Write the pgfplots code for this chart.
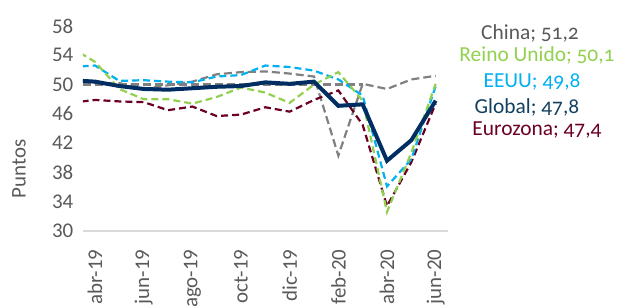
\documentclass[border=0pt]{standalone}
\usepackage{fontspec}
\setmainfont{Carlito}
\usepackage{pgfplots}
\pgfplotsset{compat=1.18}
\definecolor{cgray}{HTML}{808080}
\definecolor{tgray}{HTML}{595959}
\definecolor{cgreen}{HTML}{92D050}
\definecolor{cblue}{HTML}{00B0F0}
\definecolor{cnavy}{HTML}{002D62}
\definecolor{tnavy}{HTML}{12405E}
\definecolor{cmaroon}{HTML}{6B0022}
\definecolor{axgray}{HTML}{D9D9D9}
\begin{document}
\begin{tikzpicture}
\begin{axis}[
  at={(0,0)}, anchor=origin,
  scale only axis, width=365bp, height=205bp,
  xmin=-0.5, xmax=14.5, ymin=30, ymax=58,
  clip=true,
  separate axis lines,
  axis x line*=bottom, axis y line*=left,
  x axis line style={draw=axgray, line width=1.5bp, -},
  y axis line style={draw=none},
  ytick={30,34,...,58},
  xtick={0,2,...,14},
  xticklabels={abr-19,jun-19,ago-19,oct-19,dic-19,feb-20,abr-20,jun-20},
  major tick length=0pt,
  /pgf/number format/assume math mode=true,
  tick label style={font=\fontsize{21}{25}\selectfont, text=tgray},
  x tick label style={rotate=90, anchor=east},
  xticklabel shift=15bp,
  yticklabel style={anchor=east, xshift=-6bp},
]
\addplot[draw=cgray, line width=2.2bp, dash pattern=on 8bp off 4bp] coordinates {
(-1,50.0)(11,50.0)};
\addplot[draw=cgray, line width=2.2bp, dash pattern=on 8bp off 4bp] coordinates {
(-1,50.8)(0,50.2)(1,50.2)(2,49.4)(3,49.9)(4,50.4)(5,51.4)(6,51.7)(7,51.8)(8,51.5)(9,51.1)(10,40.3)(11,50.1)(12,49.4)(13,50.7)(14,51.2)};
\addplot[draw=cmaroon, line width=2.2bp, dash pattern=on 7bp off 4bp] coordinates {
(-1,47.5)(0,47.9)(1,47.7)(2,47.6)(3,46.5)(4,47.0)(5,45.7)(6,45.9)(7,46.9)(8,46.3)(9,47.9)(10,49.2)(11,44.5)(12,33.4)(13,39.4)(14,47.4)};
\addplot[draw=cblue, line width=2.2bp, dash pattern=on 7bp off 4bp] coordinates {
(-1,52.4)(0,52.6)(1,50.5)(2,50.6)(3,50.4)(4,50.3)(5,51.1)(6,51.3)(7,52.6)(8,52.4)(9,51.9)(10,50.7)(11,48.5)(12,36.1)(13,39.8)(14,49.8)};
\addplot[draw=cgreen, line width=2.2bp, dash pattern=on 7bp off 4bp] coordinates {
(-1,55.1)(0,53.1)(1,49.4)(2,48.0)(3,48.0)(4,47.4)(5,48.3)(6,49.6)(7,48.9)(8,47.5)(9,50.0)(10,51.7)(11,47.8)(12,32.6)(13,40.7)(14,50.1)};
\addplot[draw=cnavy, line width=4bp] coordinates {
(-1,50.6)(0,50.4)(1,49.8)(2,49.4)(3,49.3)(4,49.5)(5,49.7)(6,49.8)(7,50.3)(8,50.1)(9,50.4)(10,47.1)(11,47.3)(12,39.6)(13,42.4)(14,47.8)};
\end{axis}
\node[font=\fontsize{21}{25}\selectfont, text=tgray, rotate=90, inner sep=0pt] at (-76bp,62bp) {Puntos};
\begin{scope}[every node/.style={font=\fontsize{21.5}{25}\selectfont\addfontfeatures{Numbers=OldStyle}, inner sep=0pt}]
\node[text=tgray] at (435bp,198bp) {China; 51,2};
\node[text=cgreen] at (442bp,176bp) {Reino Unido; 50,1};
\node[text=cblue] at (437bp,149bp) {EEUU; 49,8};
\node[text=tnavy] at (432bp,124bp) {Global; 47,8};
\node[text=cmaroon] at (442bp,101bp) {Eurozona; 47,4};
\end{scope}
\pgfresetboundingbox
\useasboundingbox (-95bp,-75bp) rectangle (528bp,231bp);
\end{tikzpicture}
\end{document}
